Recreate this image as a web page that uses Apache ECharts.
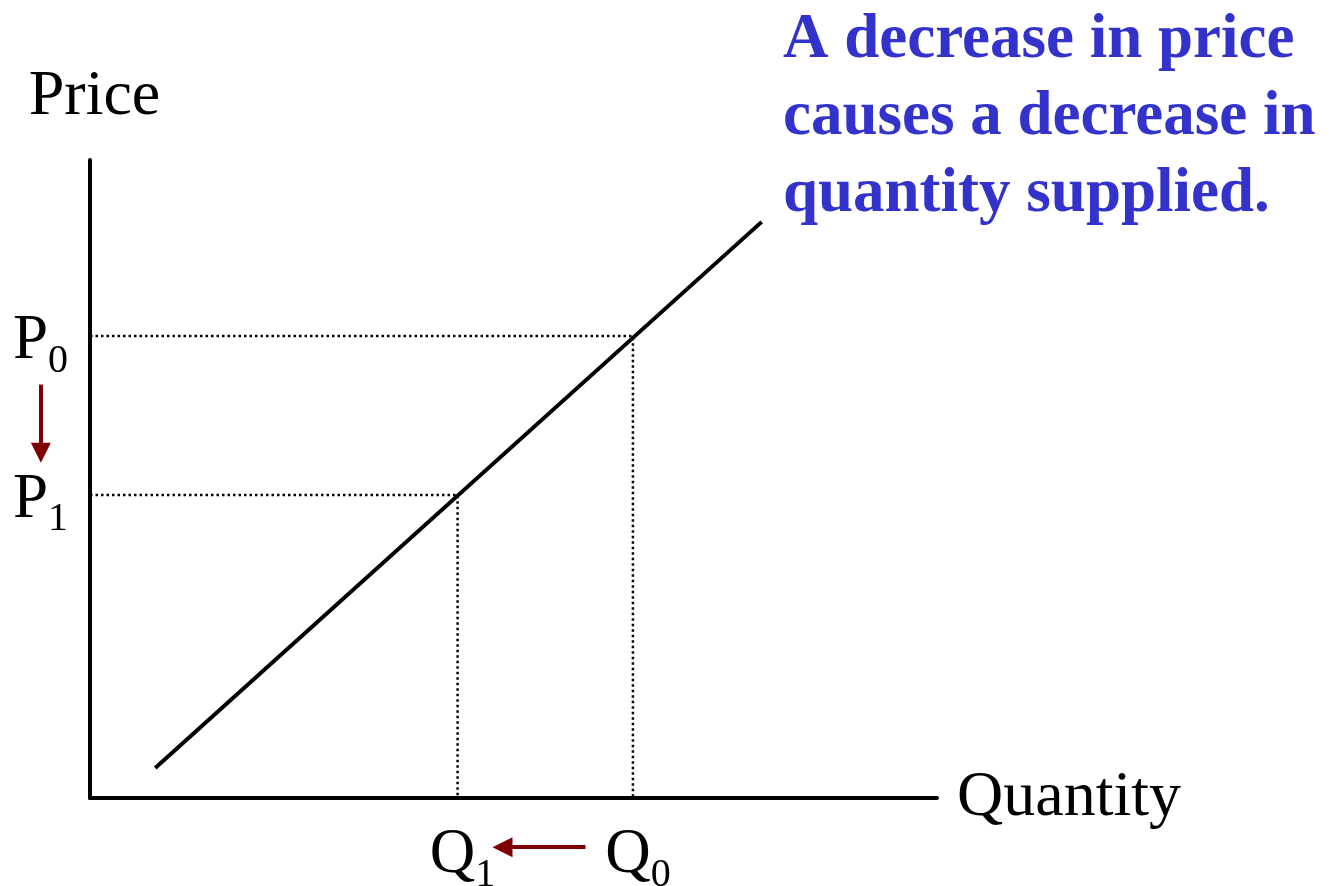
<!DOCTYPE html>
<html>
<head>
<meta charset="utf-8">
<title>Supply: movement along the curve</title>
<script src="https://cdn.jsdelivr.net/npm/echarts@6/dist/echarts.min.js"></script>
<style>
  html, body { margin: 0; padding: 0; background: #ffffff; }
  #chart { width: 1337px; height: 886px; }
</style>
</head>
<body>
<div id="chart"></div>
<script>
// Supply curve endpoints (quantity, price)
const supplyCurve = [[7.7, 4.7], [79.3, 90.3]];

// Initial and new price / quantity
const priceLevels = { P0: 72.4, P1: 47.5 };
const quantityLevels = { Q0: 64.1, Q1: 43.4 };

// Axis labels and the explanatory note
const axisNames = { x: 'Quantity', y: 'Price' };
const noteLines = ['A decrease in price', 'causes a decrease in', 'quantity supplied.'];

const SERIF = '"Liberation Serif", "Times New Roman", serif';
const ARROW_RED = '#7f0000';
const NOTE_BLUE = '#3333cc';

const chart = echarts.init(document.getElementById('chart'), null, { renderer: 'canvas' });

// Rich-text for a letter with a numeric subscript
const subRich = {
  m: { fontFamily: SERIF, fontSize: 63, color: '#000', lineHeight: 70, verticalAlign: 'top' },
  s: { fontFamily: SERIF, fontSize: 40, color: '#000', lineHeight: 40, verticalAlign: 'top', padding: [31, 0, 0, 0] }
};

const { P0, P1 } = priceLevels;
const { Q0, Q1 } = quantityLevels;

const dotted = { color: '#000', width: 2.5, type: [2.5, 3] };

const option = {
  animation: false,
  backgroundColor: '#ffffff',
  grid: { left: 90, right: 400, top: 160, bottom: 88, containLabel: false },
  xAxis: {
    type: 'value', min: 0, max: 100,
    name: axisNames.x, nameLocation: 'end', nameGap: 20,
    nameTextStyle: { fontFamily: SERIF, fontSize: 64, color: '#000', verticalAlign: 'middle', padding: [16, 0, 0, 0] },
    axisLine: { show: true, lineStyle: { color: '#000', width: 4 } },
    axisTick: { show: false }, axisLabel: { show: false }, splitLine: { show: false }
  },
  yAxis: {
    type: 'value', min: 0, max: 100,
    name: axisNames.y, nameLocation: 'end', nameGap: 31,
    nameTextStyle: { fontFamily: SERIF, fontSize: 64, color: '#000', align: 'center', padding: [0, 0, 0, 9] },
    axisLine: { show: true, lineStyle: { color: '#000', width: 4 } },
    axisTick: { show: false }, axisLabel: { show: false }, splitLine: { show: false }
  },
  series: [
    {
      // dotted guides from P0 to the curve and down to Q0
      type: 'line', silent: true, symbol: 'none',
      data: [[0, P0], [Q0, P0], [Q0, 0]],
      lineStyle: dotted,
      z: 2
    },
    {
      // dotted guides from P1 to the curve and down to Q1
      type: 'line', silent: true, symbol: 'none',
      data: [[0, P1], [Q1, P1], [Q1, 0]],
      lineStyle: dotted,
      z: 2
    },
    {
      // supply curve
      type: 'line', silent: true, symbol: 'none',
      data: supplyCurve,
      lineStyle: { color: '#000', width: 4 },
      z: 3
    },
    {
      // price and quantity labels on the axes
      type: 'scatter', silent: true, symbolSize: 0, clip: false,
      data: [
        { value: [0, P0], label: { position: 'left', distance: 22, offset: [0, 9], formatter: '{m|P}{s|0}' } },
        { value: [0, P1], label: { position: 'left', distance: 22, offset: [0, 9], formatter: '{m|P}{s|1}' } },
        { value: [Q1, 0], label: { position: 'bottom', distance: 22, offset: [5, 4], formatter: '{m|Q}{s|1}' } },
        { value: [Q0, 0], label: { position: 'bottom', distance: 22, offset: [5, 4], formatter: '{m|Q}{s|0}' } }
      ],
      label: { show: true, color: '#000', opacity: 1, rich: subRich },
      itemStyle: { opacity: 1 },
      z: 4
    },
    {
      // arrows showing the move from P0 to P1 and from Q0 to Q1
      type: 'lines', coordinateSystem: 'cartesian2d', silent: true, clip: false,
      symbol: ['none', 'triangle'], symbolSize: [16, 20],
      lineStyle: { color: ARROW_RED, width: 4, opacity: 1, curveness: 0 },
      data: [
        { coords: [[-5.8, P0 - 7.6], [-5.8, P1 + 6.6]] },
        { coords: [[Q0 - 5.6, -7.7], [Q1 + 5.3, -7.7]] }
      ],
      z: 5
    }
  ],
  graphic: [
    {
      type: 'text', left: 783, top: 2,
      style: {
        text: noteLines.join('\n'),
        font: 'bold 63px ' + SERIF,
        fill: NOTE_BLUE,
        lineHeight: 77
      }
    }
  ]
};

chart.setOption(option);
</script>
</body>
</html>
